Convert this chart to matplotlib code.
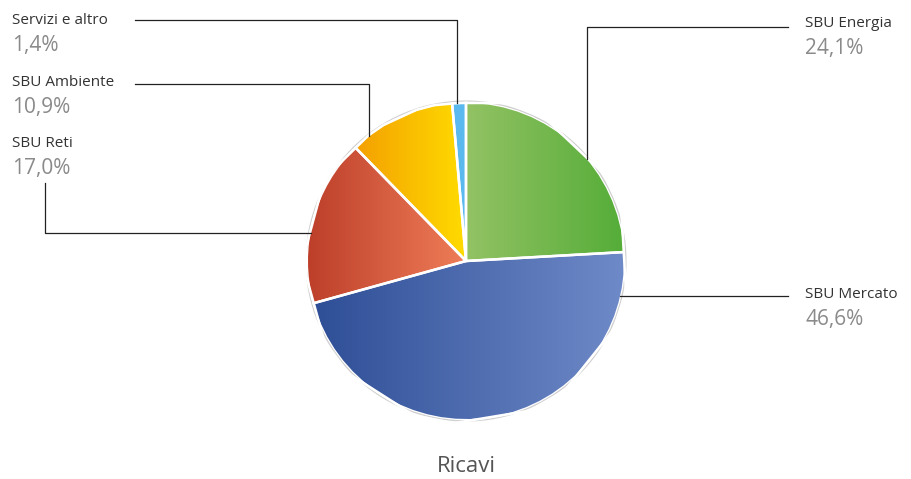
import matplotlib.pyplot as plt
import matplotlib.colors as mcolors
import numpy as np

# dati
labels = ['SBU Energia', 'SBU Mercato', 'SBU Reti', 'SBU Ambiente', 'Servizi e altro']
values = [24.1, 46.6, 17.0, 10.9, 1.4]
pct_text = ['24,1%', '46,6%', '17,0%', '10,9%', '1,4%']
# colori sfumati (sinistra -> destra)
grad_left = ['#93c264', '#2e4e96', '#bd3f2a', '#f4a000', '#5ab9ee']
grad_right = ['#55ad38', '#6f8ac8', '#ef7d58', '#ffdc00', '#5ab9ee']
title = 'Ricavi'

W, H = 911, 479
fig = plt.figure(figsize=(W / 100, H / 100), dpi=100)
ax = fig.add_axes([0, 0, 1, 1])
ax.set_xlim(0, W)
ax.set_ylim(0, H)
ax.axis('off')

cx, cy, r = 466, H - 261, 158

# ombra leggera attorno alla torta
ax.add_patch(plt.Circle((cx, cy), r + 1.5, facecolor='#e6e6e6', edgecolor='#d0d0d0', lw=1.5, zorder=1))

wedges, _ = ax.pie(values, center=(cx, cy), radius=r, startangle=90, counterclock=False,
                   wedgeprops=dict(edgecolor='white', linewidth=1.8), frame=True)
ax.axis('off')

for w, cl, cr in zip(wedges, grad_left, grad_right):
    w.set_zorder(2)
    bb = w.get_path().get_extents(w.get_patch_transform())
    cmap = mcolors.LinearSegmentedColormap.from_list('g', [cl, cr])
    grad = np.linspace(0, 1, 256).reshape(1, -1)
    im = ax.imshow(grad, cmap=cmap, extent=[bb.x0, bb.x1, bb.y0, bb.y1],
                   aspect='auto', zorder=3, interpolation='bicubic')
    im.set_clip_path(w)
    # bordo bianco sopra la sfumatura
    w2 = plt.Polygon(w.get_path().transformed(w.get_patch_transform()).vertices,
                     closed=True, facecolor='none', edgecolor='white', lw=1.8, zorder=4)
    ax.add_patch(w2)

ax.set_xlim(0, W)
ax.set_ylim(0, H)
ax.set_aspect('equal')


def on_circle_x(x, upper=True):
    dy = np.sqrt(r ** 2 - (x - cx) ** 2)
    return cy + dy if upper else cy - dy


def on_circle_y(y, left=True):
    dx = np.sqrt(r ** 2 - (y - cy) ** 2)
    return cx - dx if left else cx + dx


lk = dict(color='#222222', lw=0.9, zorder=5)
# linee guida
# Energia
y0 = H - 27
ax.plot([788, 587, 587], [y0, y0, on_circle_x(587)], **lk)
# Mercato
y0 = H - 296
ax.plot([788, on_circle_y(y0, left=False)], [y0, y0], **lk)
# Reti
y0 = H - 233
ax.plot([45, 45, on_circle_y(y0)], [H - 183, y0, y0], **lk)
# Ambiente
y0 = H - 84
ax.plot([135, 369, 369], [y0, y0, on_circle_x(369)], **lk)
# Servizi
y0 = H - 20
ax.plot([135, 457, 457], [y0, y0, on_circle_x(457)], **lk)

font = 'Open Sans'
pos = {
    'SBU Energia': (805, 23),
    'SBU Mercato': (805, 294),
    'SBU Reti': (12, 143),
    'SBU Ambiente': (12, 82),
    'Servizi e altro': (12, 20),
}
for lab, pt in zip(labels, pct_text):
    x, y = pos[lab]
    ax.text(x, H - y, lab, fontsize=11, color='#333333', family=font, va='center', ha='left')
    ax.text(x, H - y - 25, pt, fontsize=15, color='#8a8a8a', family=font, va='center', ha='left')

ax.text(cx, H - 467, title, fontsize=16, color='#555555', family='Open Sans', ha='center', va='center')

fig.savefig('out.png', dpi=100)
